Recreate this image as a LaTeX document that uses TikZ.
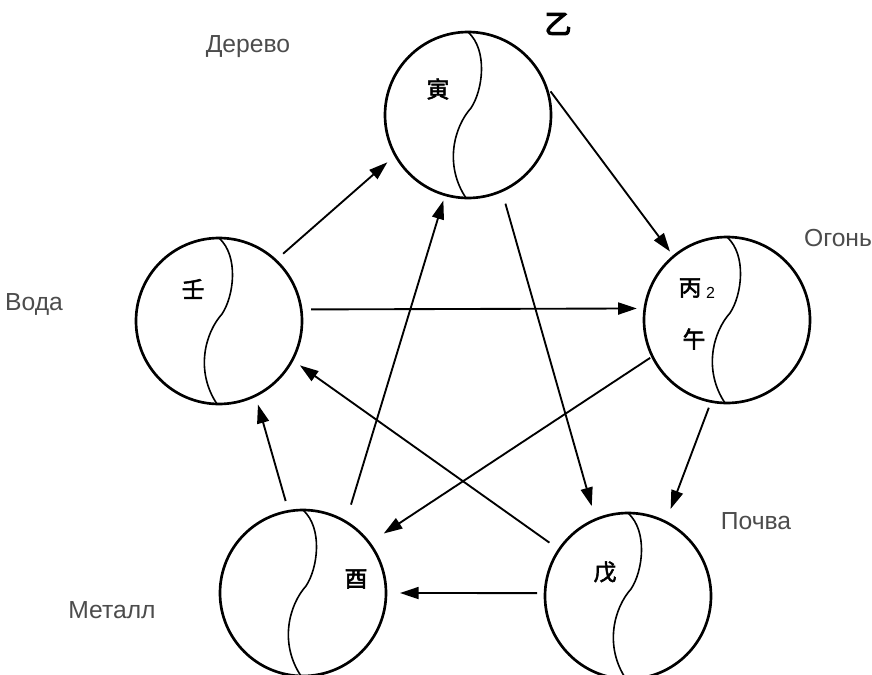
\documentclass[tikz,border=0pt]{standalone}
\usepackage{fontspec}
\setmainfont{Liberation Sans}
\newfontfamily\cjk[FakeBold=2.5]{Noto Sans CJK SC}
\newfontfamily\cjkheavy[FakeBold=5]{Noto Sans CJK SC}
\usetikzlibrary{arrows.meta,positioning}

\begin{document}
\begin{tikzpicture}[x=0.75pt,y=-0.75pt,
	elem/.style={draw,circle,line width=2pt,minimum size=124.5pt,inner sep=0pt,outer sep=0pt},
	seam/.style={line width=1.2pt},
	arr/.style={line width=1.4pt,-{Triangle[length=14pt,width=9pt]}},
	phase/.style={text=black!70,font=\fontsize{18.5}{22}\selectfont},
	sign/.style={font=\cjk\fontsize{17}{20}\selectfont}]
	\useasboundingbox (0,0) rectangle (872,675);

	\node [elem] (wood) at (468,115) {};
	\node [elem] (fire) at (727,320) {};
	\node [elem] (water) at (219,321) {};
	\node [elem] (metal) at (303,593) {};
	\node [elem] (earth) at (628,596) {};

	\foreach \e in {wood,fire,water,metal,earth}
		\draw [seam,shift={(\e.center)}] (0,-83) .. controls (20,-65) and (15,-25) .. (3,-7)
			.. controls (-14,12) and (-24,50) .. (-2,83);

	\node [phase] (woodlbl) at (248,47) {Дерево};
	\node [phase] (firelbl) at (838,238) {Огонь};
	\node [phase] (waterlbl) at (34,304) {Вода};
	\node [phase] (earthlbl) at (756,521) {Почва};
	\node [phase] (metallbl) at (112,610) {Металл};

	\node [font=\cjkheavy\fontsize{20}{23}\selectfont] (yi) at (558,24) {乙};
	\node [sign] (yin) at (438,89) {寅};
	\node [sign] (bing) at (690,288) {丙};
	\node [right=-3.5pt of bing,yshift=-4pt,font=\fontsize{12}{13}\selectfont] (bingsub) {2};
	\node [sign] (wu) at (694,339) {午};
	\node [sign] (ren) at (193,289) {壬};
	\node [sign] (you) at (356,579) {酉};
	\node [sign] (wustem) at (605,572) {戊};

	% generating cycle
	\draw [arr,shorten <=7.5pt,shorten >=8pt] (water.47) -- (wood.209);
	\draw [arr,shorten <=7pt,shorten >=4.5pt] (wood.22) -- (fire.130);
	\draw [arr,shorten <=5pt,shorten >=10.5pt] (fire.259) -- (earth.63);
	\draw [arr,shorten <=6pt,shorten >=10.5pt] (earth.178) -- (metal.0);
	\draw [arr,shorten <=8pt,shorten >=7pt] (metal.100) -- (water.296);
	% controlling star
	\draw [arr,shorten <=7.5pt,shorten >=6pt] (water.8) -- (fire.172);
	\draw [arr,shorten <=13.5pt,shorten >=4.5pt] (metal.59) -- (wood.254);
	\draw [arr,shorten <=10pt,shorten >=10.5pt] (wood.294) -- (earth.113);
	\draw [arr,shorten <=2pt,shorten >=13pt] (fire.206) -- (metal.37);
	\draw [arr,shorten <=9pt,shorten >=7pt] (earth.146) -- (water.332);
\end{tikzpicture}
\end{document}
